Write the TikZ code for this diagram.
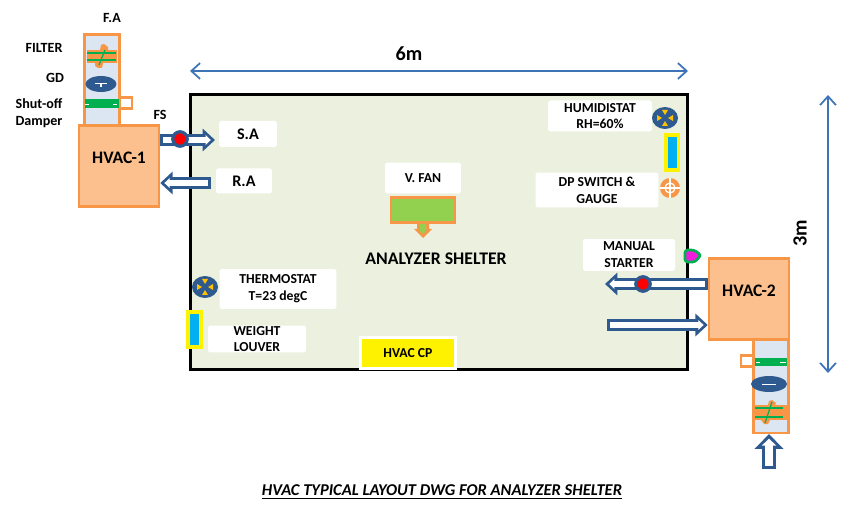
\documentclass[tikz,border=0pt]{standalone}
\usepackage{fontspec}
\setmainfont{Carlito}
\usetikzlibrary{arrows.meta,shapes.geometric}

\definecolor{shelterfill}{RGB}{235,241,222}
\definecolor{hvacfill}{RGB}{251,192,142}
\definecolor{hvacline}{RGB}{247,150,70}
\definecolor{ductfill}{RGB}{220,230,242}
\definecolor{ductblue}{RGB}{47,90,143}
\definecolor{dimblue}{RGB}{61,116,183}
\definecolor{dampergreen}{RGB}{0,176,80}
\definecolor{fangreen}{RGB}{146,208,80}
\definecolor{louverblue}{RGB}{0,176,240}
\definecolor{sensoryellow}{RGB}{255,192,0}
\definecolor{startermagenta}{RGB}{240,30,220}

\tikzset{
  labelbox/.style={fill=white,rounded corners=1pt,align=center,font=\bfseries\fontsize{7.8}{9.6}\selectfont,inner sep=0pt},
  plainlabel/.style={align=center,font=\bfseries\fontsize{8}{9.6}\selectfont,inner sep=0pt},
  hvacbox/.style={draw=hvacline,fill=hvacfill,line width=1.4pt,minimum width=1.6cm,minimum height=1.62cm,inner sep=0pt},
  ductbox/.style={draw=hvacline,fill=ductfill,line width=1.2pt,minimum width=0.7cm,inner sep=0pt},
  ductarrow/.style={draw=ductblue,line width=6.4pt,-{Triangle[length=7pt,width=12.5pt]},
    postaction={draw=white,line width=3.2pt,shorten <=1.6pt,shorten >=2.4pt,-{Triangle[length=2.9pt,width=5.4pt]}}},
  ductarrowbig/.style={draw=ductblue,line width=7.6pt,-{Triangle[length=8.5pt,width=16pt]},
    postaction={draw=white,line width=4pt,shorten <=1.8pt,shorten >=2.6pt,-{Triangle[length=4pt,width=8pt]}}},
  dimarrow/.style={draw=dimblue,line width=1pt,{Straight Barb[length=5pt,width=9pt]}-{Straight Barb[length=5pt,width=9pt]}},
  louverbox/.style={draw=yellow,fill=louverblue,line width=2pt,minimum width=0.25cm,minimum height=0.71cm,inner sep=0pt},
  redsensor/.style={circle,draw=ductblue,fill=red,line width=1.8pt,minimum size=0.29cm,inner sep=0pt},
  ringsensor/.style={ellipse,fill=ductblue,minimum width=0.52cm,minimum height=0.44cm,inner sep=0pt},
  gdisc/.style={ellipse,fill=ductblue,inner sep=0pt},
  damperbar/.style={fill=dampergreen,minimum height=0.18cm,inner sep=0pt},
  handlebox/.style={draw=hvacline,fill=white,line width=1.4pt,minimum width=0.23cm,minimum height=0.22cm,inner sep=0pt}
}

\begin{document}
\begin{tikzpicture}[x=0.02cm,y=-0.02cm]
  \useasboundingbox (0,0) rectangle (855,506);

  % Shelter
  \node[draw=black,fill=shelterfill,line width=1.7pt,minimum width=9.96cm,minimum height=5.52cm,inner sep=0pt] (shelter) at (439,232) {};
  \node[font=\bfseries\fontsize{10.1}{12}\selectfont,inner sep=0pt] (sheltertext) at (436,259) {ANALYZER SHELTER};

  % Dimensions
  \coordinate (widthleft) at (190,71);
  \coordinate (widthright) at (688,71);
  \coordinate (heighttop) at (828,95);
  \coordinate (heightbot) at (828,373);
  \draw[dimarrow] (widthleft) -- (widthright);
  \draw[dimarrow] (heighttop) -- (heightbot);
  \node[font=\bfseries\fontsize{11.5}{13}\selectfont,inner sep=0pt] (widthtext) at (409,54) {6m};
  \node[font=\bfseries\fontsize{11.5}{13}\selectfont,inner sep=0pt,rotate=90] (heighttext) at (800,233) {3m};

  % Left unit duct
  \node[ductbox,minimum height=1.82cm] (ductone) at (102,80) {};
  \fill[hvacline] (87,50) rectangle (117,63);
  \fill[hvacline] (100,50) -- (101,45) -- (104,44) -- (108,47) -- (108,50) -- cycle;
  \fill[hvacline] (95,63) -- (103,63) -- (102,68) -- (98,68) -- (95,66) -- cycle;
  \draw[dampergreen,line width=0.7pt] (87,53) -- (116,53);
  \draw[dampergreen,line width=0.7pt] (87,60) -- (116,60);
  \draw[dampergreen,line width=0.7pt] (105,50) -- (99,65);
  \node[gdisc,minimum width=0.62cm,minimum height=0.32cm] (gdone) at (101,84) {};
  \fill[white] (95,83) rectangle (107,84.5);
  \fill[white] (100,84) rectangle (102,87);
  \node[handlebox] (handleone) at (126,103) {};
  \node[damperbar,minimum width=0.7cm] (damperone) at (102,104) {};
  \fill[white] (85,104) rectangle (89,105.5);
  \fill[white] (113,104) rectangle (117,105.5);

  % Left unit
  \node[hvacbox] (hvacone) at (119,166) {};
  \node[font=\bfseries\fontsize{10}{12}\selectfont,inner sep=0pt] (hvaconetext) at (119,158) {HVAC-1};
  \node[plainlabel] (fatext) at (112,18) {F.A};
  \node[plainlabel] (filtertext) at (44,48) {FILTER};
  \node[plainlabel] (gdtext) at (55,78) {GD};
  \node[plainlabel] (damperonetext) at (39,113) {Shut-off\\Damper};
  \node[plainlabel] (fstext) at (160,115) {FS};

  % Labels in the shelter
  \node[labelbox,minimum width=1.16cm,minimum height=0.52cm,font=\bfseries\fontsize{9.2}{11}\selectfont] (salabel) at (248,134) {S.A};
  \node[labelbox,minimum width=1.12cm,minimum height=0.5cm,font=\bfseries\fontsize{9.2}{11}\selectfont] (ralabel) at (244,181) {R.A};
  \node[labelbox,minimum width=1.52cm,minimum height=0.62cm] (fanlabel) at (423,178) {V. FAN};
  \node[labelbox,minimum width=2.08cm,minimum height=0.62cm] (humidlabel) at (600,116) {HUMIDISTAT\\RH=60\%};
  \node[labelbox,minimum width=2.46cm,minimum height=0.7cm] (dplabel) at (597,190) {DP SWITCH \&\\GAUGE};
  \node[labelbox,minimum width=1.84cm,minimum height=0.64cm] (starterlabel) at (629,255) {MANUAL\\STARTER};
  \node[labelbox,minimum width=2.34cm,minimum height=0.8cm] (thermolabel) at (278,289) {THERMOSTAT\\T=23 degC};
  \node[labelbox,minimum width=1.96cm,minimum height=0.54cm] (weightlabel) at (257,339) {WEIGHT\\LOUVER};

  % Control panel
  \node[draw=white,fill=yellow,line width=1.4pt,minimum width=1.9cm,minimum height=0.62cm,inner sep=0pt,font=\bfseries\fontsize{7.8}{9}\selectfont] (cppanel) at (408,353) {HVAC CP};

  % Fan
  \node[draw=hvacline,fill=fangreen,line width=1.4pt,minimum width=1.28cm,minimum height=0.5cm,inner sep=0pt] (fanbox) at (423,210) {};
  \fill[hvacline] (417,224) -- (417,229) -- (414,229) -- (423,238) -- (432,229) -- (429,229) -- (429,224) -- cycle;
  \fill[fangreen] (420,224) -- (420,231) -- (423,234) -- (426,231) -- (426,224) -- cycle;

  % Sensors on the right wall
  \node[ringsensor] (humidsensor) at (665,118) {};
  \foreach \ang in {0,90,180,270} {
    \fill[sensoryellow,shift={(humidsensor)},rotate=\ang] (3,0) -- (8,3) -- (8,-3) -- cycle;
  }
  \node[louverbox] (louverright) at (672,152.5) {};
  \node[circle,fill=hvacline,minimum size=0.4cm,inner sep=0pt] (gaugesensor) at (670,188) {};
  \draw[white,line width=0.7pt] (gaugesensor.center) circle (5);
  \draw[white,line width=0.7pt] (gaugesensor.north) -- (gaugesensor.south);
  \draw[white,line width=0.7pt] (gaugesensor.west) -- (gaugesensor.east);
  \fill[startermagenta,draw=dampergreen,line width=1.5pt,rounded corners=1.5pt] (685,250) -- (694,250) -- (701,255) -- (695,262) -- (685,262) -- cycle;

  % Sensors on the left wall
  \node[ringsensor] (thermosensor) at (205,287) {};
  \foreach \ang in {0,90,180,270} {
    \fill[sensoryellow,shift={(thermosensor)},rotate=\ang] (3,0) -- (8,3) -- (8,-3) -- cycle;
  }
  \node[louverbox] (louverleft) at (194.5,329.5) {};

  % Left unit air arrows
  \coordinate (satip) at (215,140);
  \coordinate (ratail) at (211,183);
  \draw[ductarrow] (hvacone.east |- satip) -- (satip);
  \draw[ductarrow] (ratail) -- (hvacone.east |- ratail);
  \node[redsensor] (fsone) at (180,139) {};

  % Right unit
  \node[hvacbox] (hvactwo) at (749,299) {};
  \node[font=\bfseries\fontsize{10}{12}\selectfont,inner sep=0pt] (hvactwotext) at (749,291) {HVAC-2};

  % Right unit duct
  \node[ductbox,minimum height=1.86cm] (ducttwo) at (771,386.5) {};
  \fill[hvacline] (755,405) rectangle (787,420);
  \fill[hvacline] (768,405) -- (769,401) -- (772,400) -- (776,403) -- (775,405) -- cycle;
  \fill[hvacline] (761,420) -- (770,420) -- (768,424) -- (764,424) -- cycle;
  \draw[dampergreen,line width=0.7pt] (755,408) -- (783,408);
  \draw[dampergreen,line width=0.7pt] (755,417) -- (783,417);
  \draw[dampergreen,line width=0.7pt] (772,402) -- (765,423);
  \node[gdisc,minimum width=0.72cm,minimum height=0.32cm] (gdtwo) at (769,384) {};
  \fill[white] (762,383.5) rectangle (776,385);
  \node[handlebox] (handletwo) at (747,361) {};
  \node[damperbar,minimum width=0.64cm] (dampertwo) at (771,362) {};
  \fill[white] (756,362) rectangle (760,363.5);
  \fill[white] (780,362) rectangle (786,363.5);

  % Right unit air arrows
  \coordinate (rtip) at (605,284);
  \coordinate (rtail) at (607,325);
  \coordinate (intail) at (769,469);
  \draw[ductarrow] (hvactwo.west |- rtip) -- (rtip);
  \draw[ductarrow] (rtail) -- (hvactwo.west |- rtail);
  \draw[ductarrowbig] (intail) -- (ducttwo.south -| intail);
  \node[redsensor] (fstwo) at (643,284) {};

  % Title
  \node[font=\bfseries\itshape\fontsize{9.4}{11}\selectfont,inner sep=0pt] (titletext) at (442,492) {\underline{HVAC TYPICAL LAYOUT DWG FOR ANALYZER SHELTER}};
\end{tikzpicture}
\end{document}
